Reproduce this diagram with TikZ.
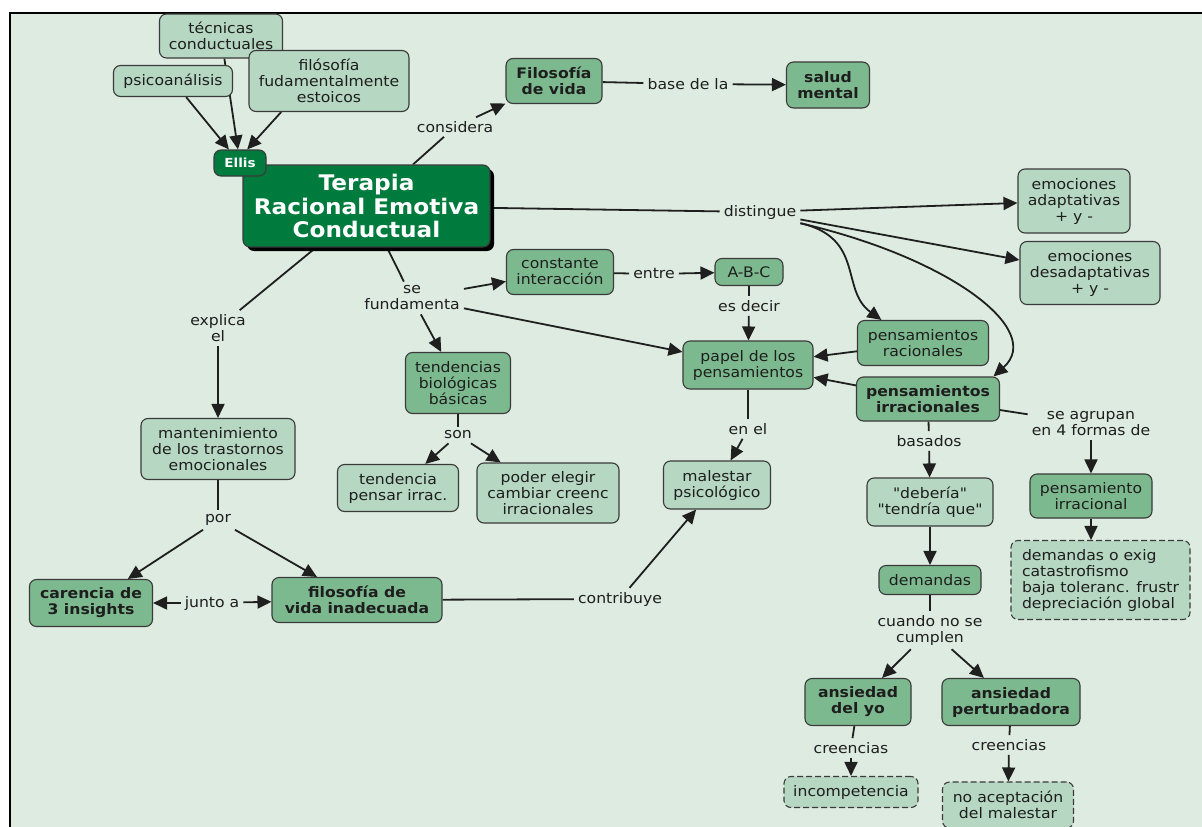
\documentclass[tikz,border=0pt]{standalone}
\usepackage{fontspec}
\setmainfont[FakeStretch=1.08]{DejaVu Sans}
\newfontfamily\qfnt[FakeStretch=1.08,Ligatures=TeXOff]{DejaVu Sans}
\usetikzlibrary{arrows.meta,shadows,calc}
\definecolor{bgc}{RGB}{222,235,225}
\definecolor{lightc}{RGB}{182,215,194}
\definecolor{midc}{RGB}{125,185,143}
\definecolor{darkc}{RGB}{0,123,62}
\definecolor{bordc}{RGB}{58,58,58}
\definecolor{txtc}{RGB}{30,30,30}
\newcommand\myfnt{\fontsize{14.5}{16}\selectfont}
\pgfdeclarelayer{bgl}
\pgfdeclarelayer{edges}
\pgfsetlayers{bgl,edges,main}
\tikzset{
  box/.style={draw=bordc, line width=1.1pt, rounded corners=7pt, align=center, inner sep=2pt, font=\myfnt, text=txtc},
  lt/.style={box, fill=lightc},
  md/.style={box, fill=midc},
  mdb/.style={md, font=\myfnt\bfseries},
  dsh/.style={lt, dash pattern=on 6pt off 3pt},
  sz/.style 2 args={minimum width=#1, minimum height=#2},
  lab/.style={font=\myfnt, text=txtc, align=center, inner sep=4pt},
  con/.style={line width=1.8pt, draw=black!88},
  arr/.style={con, -{Triangle[length=14pt,width=13pt]}}
}
\begin{document}
\begin{tikzpicture}[x=1pt,y=-1pt]
\useasboundingbox (0,0) rectangle (1202,827);
\begin{pgfonlayer}{bgl}
\fill[white] (0,0) rectangle (1202,827);
\fill[bgc] (10,13) rectangle (1202,827);
\draw[line width=2.2pt] (10,827) -- (10,13) -- (1202,13);
\end{pgfonlayer}

% nodes
\node[lt, sz={123pt}{44pt}] (tec) at (221,36) {técnicas\\conductuales};
\node[lt, sz={119pt}{31pt}] (psi) at (173,81) {psicoanálisis};
\node[lt, sz={160pt}{61pt}] (fil) at (329,81) {filósofía\\fudamentalmente\\estoicos};
\node[box, fill=darkc, text=white, sz={247pt}{82pt},
      font=\bfseries\fontsize{21.5}{23.5}\selectfont,
      drop shadow={fill=black, opacity=1, shadow xshift=4pt, shadow yshift=-4pt}]
      (ter) at (366.5,206) {Terapia\\Racional Emotiva\\Conductual};
\node[box, fill=darkc, text=white, sz={52pt}{26pt}, font=\bfseries\fontsize{12.5}{14}\selectfont]
      (ellis) at (240,163) {Ellis};
\node[mdb, sz={96pt}{45pt}] (fv) at (554,81) {Filosofía\\de vida};
\node[mdb, sz={83pt}{46pt}] (sm) at (828,85) {salud\\mental};
\node[lt, sz={112pt}{64pt}] (ea) at (1074,201) {emociones\\adaptativas\\+ y -};
\node[lt, sz={140pt}{63pt}] (ed) at (1090,273) {emociones\\desadaptativas\\+ y -};
\node[md, sz={131pt}{45pt}] (rac) at (923,343) {pensamientos\\racionales};
\node[mdb, sz={143pt}{44pt}] (irr) at (928,399) {pensamientos\\irracionales};
\node[md, sz={130pt}{48pt}] (pap) at (748,365) {papel de los\\pensamientos};
\node[md, sz={107pt}{45pt}] (ci) at (560,272) {constante\\interacción};
\node[md, sz={68pt}{27pt}] (abc) at (749,272) {A-B-C};
\node[md, sz={105pt}{61pt}] (tb) at (458,383) {tendencias\\biológicas\\básicas};
\node[lt, sz={121pt}{47pt}] (tp) at (398,488) {tendencia\\pensar irrac.};
\node[lt, sz={142pt}{60pt}] (pe) at (548,493) {poder elegir\\cambiar creenc\\irracionales};
\node[lt, sz={107pt}{48pt}] (mal) at (717,485) {malestar\\psicológico};
\node[lt, sz={154pt}{61pt}] (man) at (218,449) {mantenimiento\\de los trastornos\\emocionales};
\node[mdb, sz={123pt}{47pt}] (car) at (91,603) {carencia de\\3 insights};
\node[mdb, sz={170pt}{45pt}] (fvi) at (357,600) {filosofía de\\vida inadecuada};
\node[lt, sz={126pt}{48pt}, font=\qfnt\myfnt] (deb) at (930,502) {"debería"\\"tendría que"};
\node[md, sz={102pt}{29pt}] (dem) at (930,580) {demandas};
\node[md, sz={122pt}{44pt}] (pir) at (1091,496) {pensamiento\\irracional};
\node[dsh, sz={179pt}{79pt}, align=left] (lst) at (1100.5,580) {demandas o exig\\catastrofismo\\baja toleranc. frustr\\depreciación global};
\node[mdb, sz={106pt}{47pt}] (ay) at (858,702) {ansiedad\\del yo};
\node[mdb, sz={138pt}{47pt}] (ap) at (1011,702) {ansiedad\\perturbadora};
\node[dsh, sz={134pt}{31pt}] (inc) at (851,792) {incompetencia};
\node[dsh, sz={131pt}{46pt}] (noa) at (1008,805) {no aceptación\\del malestar};

% linking labels
\node[lab] (lcons) at (455,127) {considera};
\node[lab] (lbase) at (688,84) {base de la};
\node[lab] (ldist) at (760,212) {distingue};
\node[lab] (lfund) at (412,298) {se\\fundamenta};
\node[lab] (lexp) at (218,328) {explica\\el};
\node[lab] (lentre) at (654,274) {entre};
\node[lab] (ldecir) at (749,306) {es decir};
\node[lab] (lson) at (458,435) {son};
\node[lab] (lenel) at (748,429) {en el};
\node[lab] (lpor) at (218,520) {por};
\node[lab] (ljunto) at (212,603) {junto a};
\node[lab] (lcontr) at (620,599) {contribuye};
\node[lab] (lbas) at (929,441) {basados};
\node[lab] (lagr) at (1091,424) {se agrupan\\en 4 formas de};
\node[lab] (lcuando) at (930,630) {cuando no se\\cumplen};
\node[lab] (lcre1) at (851,748) {creencias};
\node[lab] (lcre2) at (1009,745) {creencias};

\begin{pgfonlayer}{edges}
\draw[arr] (psi) -- (ellis);
\draw[arr] (tec) -- (ellis);
\draw[arr] (fil.213) -- (ellis.62);
\draw[con] (ter) -- (lcons);
\draw[arr] (lcons) -- (fv);
\draw[con] (fv) -- (lbase);
\draw[arr] (lbase) -- (sm);
\draw[con] (ter) -- (ldist);
\draw[arr] (ldist) -- (ea);
\draw[arr] (ldist) -- (ed);
\draw[arr] (ldist.south east) .. controls (865,238) and (840,290) .. (rac.151);
\draw[arr] (ldist.south east) .. controls (950,258) and (1045,330) .. (irr.19);
\draw[con] (ter) -- (lfund);
\draw[arr] (lfund) -- (ci);
\draw[arr] (lfund) -- (tb);
\draw[arr] (lfund) -- (pap);
\draw[con] (ci) -- (lentre);
\draw[arr] (lentre) -- (abc);
\draw[con] (abc) -- (ldecir);
\draw[arr] (ldecir) -- (pap);
\draw[arr] (rac) -- (pap);
\draw[arr] (irr) -- (pap);
\draw[con] (pap) -- (lenel);
\draw[arr] (lenel) -- (mal);
\draw[con] (tb) -- (lson);
\draw[arr] (lson) -- (tp);
\draw[arr] (lson) -- (pe);
\draw[con] (ter) -- (lexp);
\draw[arr] (lexp) -- (man);
\draw[con] (man) -- (lpor);
\draw[arr] (lpor) -- (car);
\draw[arr] (lpor) -- (fvi);
\draw[arr] (ljunto) -- (car);
\draw[arr] (ljunto) -- (fvi);
\draw[con] (fvi) -- (lcontr);
\draw[arr] (lcontr) -- (mal);
\draw[con] (irr) -- (lbas);
\draw[arr] (lbas) -- (deb);
\draw[con] (irr) -- (lagr);
\draw[arr] (lagr) -- (pir);
\draw[arr] (pir.south) -- (pir.south |- lst.north);
\draw[arr] (deb) -- (dem);
\draw[con] (dem) -- (lcuando);
\draw[arr] (lcuando) -- (ay);
\draw[arr] (lcuando) -- (ap);
\draw[con] (ay) -- (lcre1);
\draw[arr] (lcre1) -- (inc);
\draw[con] (ap) -- (lcre2);
\draw[arr] (lcre2) -- (noa);
\end{pgfonlayer}
\end{tikzpicture}
\end{document}
